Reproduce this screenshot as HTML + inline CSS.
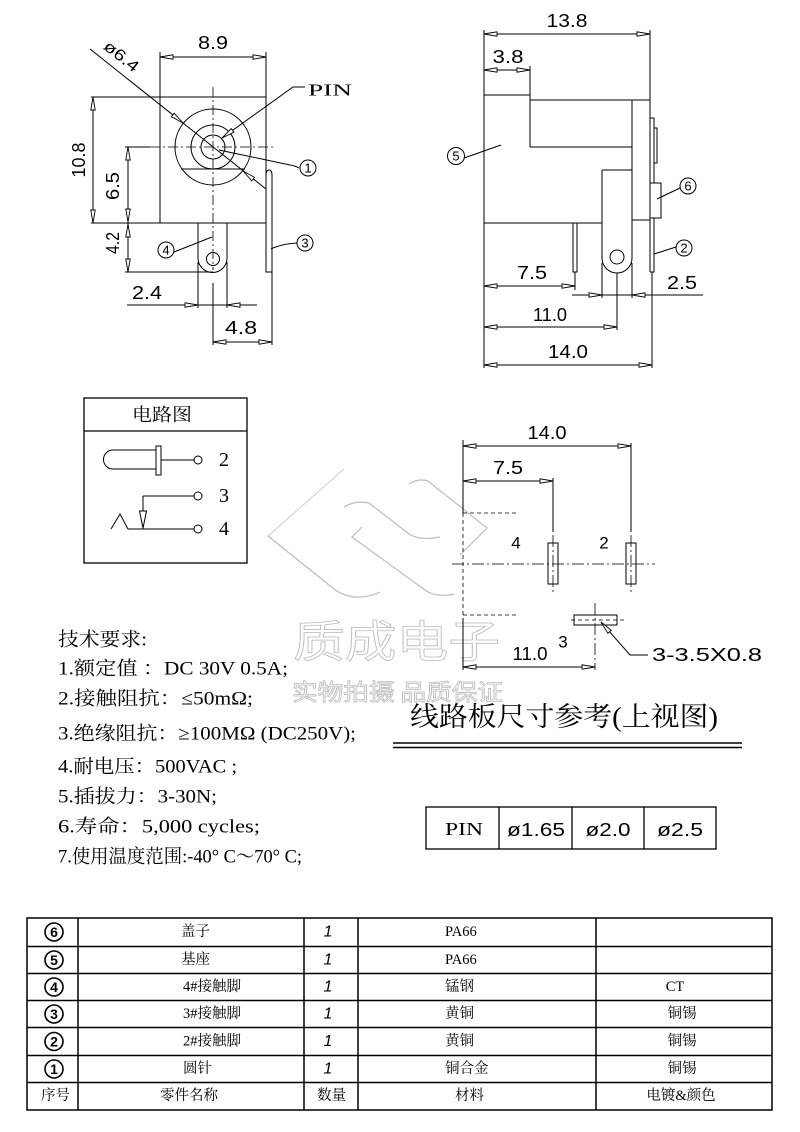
<!DOCTYPE html>
<html><head><meta charset="utf-8"><style>
html,body{margin:0;padding:0;background:#fff;}
svg{display:block;}
</style></head><body>
<svg width="800" height="1132" viewBox="0 0 800 1132" xmlns="http://www.w3.org/2000/svg">
<rect width="800" height="1132" fill="#fff"/>

<!-- watermark -->
<g fill="none" stroke="#bdbdbd" stroke-width="1.2">
<path d="M344,469 L268,536" stroke="#d6d6d6"/>
<path d="M268,536 L334,589 Q346,598 362,597 Q372,596 380,592"/>
<path d="M344,507 Q355,500 369,503 L409,534 Q420,541 440,537"/>
<path d="M362,527 L352,537 L425,590 Q436,598 454,594"/>
<path d="M409,484 Q418,478 428,481 L487,528 L460,555"/>
</g>
<g font-family="'Noto Sans CJK SC',sans-serif" fill="none" stroke="#bababa" stroke-width="0.8">
<text x="293" y="638" font-size="44" textLength="207" lengthAdjust="spacingAndGlyphs" dominant-baseline="central">质成电子</text>
<text x="292" y="690" font-size="23" textLength="211" lengthAdjust="spacingAndGlyphs" dominant-baseline="central">实物拍摄 品质保证</text>
</g>

<!-- ============ TOP-LEFT VIEW ============ -->
<g stroke="#000" stroke-width="1" fill="none">
<rect x="160" y="97" width="106" height="126"/>
<line x1="160" y1="52" x2="160" y2="97"/>
<line x1="266" y1="52" x2="266" y2="97"/>
<line x1="160" y1="57" x2="266" y2="57"/>
<line x1="90" y1="49" x2="266" y2="189"/>
<circle cx="213" cy="147" r="38"/>
<circle cx="213" cy="147" r="22"/>
<circle cx="213" cy="147" r="12"/>
<line x1="181" y1="169" x2="245" y2="169"/>
<line x1="91" y1="97" x2="160" y2="97"/>
<line x1="91" y1="223" x2="160" y2="223"/>
<line x1="93" y1="97" x2="93" y2="223"/>
<line x1="125" y1="147" x2="150" y2="147"/>
<line x1="128" y1="147" x2="128" y2="272"/>
<line x1="125" y1="272" x2="213" y2="272"/>
<path d="M198,223 V258 A14.5,14.5 0 0 0 227,258 V223"/>
<circle cx="213" cy="259" r="6.5"/>
<line x1="198" y1="262" x2="198" y2="308"/>
<line x1="227" y1="262" x2="227" y2="308"/>
<line x1="127" y1="305" x2="257" y2="305"/>
<line x1="213" y1="283" x2="213" y2="345"/>
<line x1="272" y1="272" x2="272" y2="345"/>
<line x1="213" y1="342" x2="272" y2="342"/>
<path d="M266,272 V175 Q266,170 269,170 Q272,170 272,175 V272 Z"/>
<polyline points="222,138 293,87 305,87"/>
<path d="M219,150 L290,165 Q296,166 299,168"/>
<path d="M271,249 Q281,244 297,243"/>
<path d="M174,252 L212,237"/>
<circle cx="308" cy="168" r="8"/>
<circle cx="305" cy="243" r="8"/>
<circle cx="166" cy="250" r="8"/>
</g>
<g stroke="#000" stroke-width="0.8" fill="none" stroke-dasharray="10,3,2,3">
<line x1="213" y1="87" x2="213" y2="270"/>
<line x1="150" y1="147" x2="273" y2="147"/>
</g>
<g stroke="#000" stroke-width="0.9" fill="#fff">
<polygon points="160,57 173,54.8 173,59.2"/>
<polygon points="266,57 253,54.8 253,59.2"/>
<polygon points="93,97 90.8,110 95.2,110"/>
<polygon points="93,223 90.8,210 95.2,210"/>
<polygon points="128,147 125.8,160 130.2,160"/>
<polygon points="128,222 125.8,209 130.2,209"/>
<polygon points="128,224 125.8,237 130.2,237"/>
<polygon points="128,272 125.8,259 130.2,259"/>
<polygon points="198,305 185,302.8 185,307.2"/>
<polygon points="227,305 240,302.8 240,307.2"/>
<polygon points="213,342 226,339.8 226,344.2"/>
<polygon points="272,342 259,339.8 259,344.2"/>
<polygon points="183,123 174.2,113.2 171.4,116.6"/>
<polygon points="243,171 254.6,177.4 251.8,180.8"/>
<polygon points="222,138 233.9,132.2 231.3,128.6"/>
</g>
<g font-family="'Liberation Sans',sans-serif" font-size="18" fill="#000" text-anchor="middle" dominant-baseline="central">
<text x="213" y="43" textLength="30" lengthAdjust="spacingAndGlyphs">8.9</text>
<text transform="translate(79,160) rotate(-90)" textLength="35" lengthAdjust="spacingAndGlyphs">10.8</text>
<text transform="translate(113,186) rotate(-90)" textLength="28" lengthAdjust="spacingAndGlyphs">6.5</text>
<text transform="translate(113,243) rotate(-90)" textLength="22" lengthAdjust="spacingAndGlyphs">4.2</text>
<text x="147" y="293" textLength="30" lengthAdjust="spacingAndGlyphs">2.4</text>
<text x="241" y="328" textLength="32" lengthAdjust="spacingAndGlyphs">4.8</text>
<text transform="translate(121,57) rotate(38.5)" font-size="16" textLength="40" lengthAdjust="spacingAndGlyphs">ø6.4</text>
<text x="308" y="168" font-size="13">1</text>
<text x="305" y="243" font-size="13">3</text>
<text x="166" y="250" font-size="13">4</text>
</g>
<text x="308" y="90" font-family="'Liberation Serif',serif" font-size="17" dominant-baseline="central" textLength="44" lengthAdjust="spacingAndGlyphs">PIN</text>

<!-- ============ TOP-RIGHT VIEW ============ -->
<g stroke="#000" stroke-width="1" fill="none">
<line x1="484" y1="30" x2="484" y2="368"/>
<line x1="650" y1="30" x2="650" y2="272"/>
<line x1="484" y1="34" x2="650" y2="34"/>
<line x1="484" y1="70" x2="530" y2="70"/>
<line x1="530" y1="66" x2="530" y2="147"/>
<line x1="484" y1="95" x2="530" y2="95"/>
<line x1="530" y1="100" x2="650" y2="100"/>
<line x1="530" y1="147" x2="632" y2="147"/>
<line x1="484" y1="223" x2="602" y2="223"/>
<line x1="632" y1="100" x2="632" y2="258"/>
<line x1="632" y1="220" x2="650" y2="220"/>
<path d="M602,170 H632 M602,170 V258 A15,15 0 0 0 632,258"/>
<circle cx="617" cy="257" r="7"/>
<rect x="573" y="223" width="4" height="49"/>
<polyline points="650,118 654,118 654,183"/>
<rect x="654" y="128" width="3" height="35"/>
<rect x="650" y="183" width="11" height="35"/>
<path d="M654,218 V272 H650"/>
<line x1="575" y1="272" x2="575" y2="290"/>
<line x1="602" y1="263" x2="602" y2="298"/>
<line x1="632" y1="263" x2="632" y2="298"/>
<line x1="617" y1="273" x2="617" y2="330"/>
<line x1="652" y1="272" x2="652" y2="368"/>
<line x1="484" y1="286" x2="575" y2="286"/>
<line x1="572" y1="295" x2="703" y2="295"/>
<line x1="484" y1="327" x2="617" y2="327"/>
<line x1="484" y1="365" x2="652" y2="365"/>
<path d="M464,158 L501,145"/>
<path d="M657,199 L680,188"/>
<path d="M654,254 L676,247"/>
<circle cx="456" cy="156" r="8.5"/>
<circle cx="688" cy="186" r="8"/>
<circle cx="684" cy="248" r="8"/>
</g>
<g stroke="#000" stroke-width="0.9" fill="#fff">
<polygon points="484,34 497,31.8 497,36.2"/>
<polygon points="650,34 637,31.8 637,36.2"/>
<polygon points="484,70 497,67.8 497,72.2"/>
<polygon points="530,70 517,67.8 517,72.2"/>
<polygon points="484,286 497,283.8 497,288.2"/>
<polygon points="575,286 562,283.8 562,288.2"/>
<polygon points="602,295 589,292.8 589,297.2"/>
<polygon points="632,295 645,292.8 645,297.2"/>
<polygon points="484,327 497,324.8 497,329.2"/>
<polygon points="617,327 604,324.8 604,329.2"/>
<polygon points="484,365 497,362.8 497,367.2"/>
<polygon points="652,365 639,362.8 639,367.2"/>
</g>
<g font-family="'Liberation Sans',sans-serif" font-size="18" fill="#000" text-anchor="middle" dominant-baseline="central">
<text x="567" y="21" textLength="41" lengthAdjust="spacingAndGlyphs">13.8</text>
<text x="508" y="57" textLength="31" lengthAdjust="spacingAndGlyphs">3.8</text>
<text x="532" y="273" textLength="30" lengthAdjust="spacingAndGlyphs">7.5</text>
<text x="682" y="283" textLength="30" lengthAdjust="spacingAndGlyphs">2.5</text>
<text x="550" y="315" textLength="34" lengthAdjust="spacingAndGlyphs">11.0</text>
<text x="568" y="352" textLength="40" lengthAdjust="spacingAndGlyphs">14.0</text>
<text x="456" y="156" font-size="13">5</text>
<text x="688" y="186" font-size="13">6</text>
<text x="684" y="248" font-size="13">2</text>
</g>

<!-- ============ CIRCUIT ============ -->
<g stroke="#000" stroke-width="1" fill="none">
<rect x="84" y="398" width="163" height="165" stroke-width="1.3"/>
<line x1="84" y1="431" x2="247" y2="431" stroke-width="1.3"/>
<path d="M156,450 H113 A9.5,9.5 0 0 0 113,469 H156"/>
<rect x="156" y="446" width="5" height="29"/>
<line x1="161" y1="460" x2="194" y2="460"/>
<circle cx="198" cy="460" r="4"/>
<line x1="143" y1="496" x2="194" y2="496"/>
<circle cx="198" cy="496" r="4"/>
<line x1="143" y1="496" x2="143" y2="529"/>
<polygon points="139.5,511 146.5,511 143,528" fill="#fff"/>
<polyline points="111,529 120,514 128,529 194,529"/>
<circle cx="198" cy="529" r="4"/>
</g>
<text x="162" y="415" font-family="'Liberation Serif','Noto Serif CJK SC',serif" font-size="18" text-anchor="middle" dominant-baseline="central" textLength="60" lengthAdjust="spacingAndGlyphs">电路图</text>
<g font-family="'Liberation Serif',serif" font-size="20" text-anchor="middle" dominant-baseline="central">
<text x="224" y="460">2</text>
<text x="224" y="496">3</text>
<text x="224" y="529">4</text>
</g>

<!-- ============ PCB LAYOUT ============ -->
<g stroke="#000" stroke-width="1" fill="none">
<line x1="463" y1="440" x2="463" y2="513"/>
<line x1="463" y1="618" x2="463" y2="670"/>
<line x1="553" y1="478" x2="553" y2="532"/>
<line x1="631" y1="443" x2="631" y2="532"/>
<line x1="463" y1="446" x2="631" y2="446"/>
<line x1="463" y1="481" x2="553" y2="481"/>
<line x1="463" y1="667" x2="595" y2="667"/>
<rect x="548" y="543" width="10" height="41"/>
<rect x="626" y="543" width="10" height="41"/>
<rect x="574" y="615" width="43" height="10"/>
<polyline points="601,622 630,655 648,655"/>
</g>
<g stroke="#000" stroke-width="0.8" fill="none" stroke-dasharray="4,3">
<line x1="463" y1="513" x2="463" y2="615"/>
<line x1="463" y1="513" x2="518" y2="513"/>
<line x1="463" y1="615" x2="518" y2="615"/>
<line x1="571" y1="620" x2="627" y2="620"/>
</g>
<g stroke="#000" stroke-width="0.8" fill="none" stroke-dasharray="12,3,2,3">
<line x1="452" y1="564" x2="655" y2="564"/>
<line x1="553" y1="535" x2="553" y2="593"/>
<line x1="631" y1="535" x2="631" y2="593"/>
<line x1="595" y1="603" x2="595" y2="670"/>
</g>
<g stroke="#000" stroke-width="0.9" fill="#fff">
<polygon points="463,446 476,443.8 476,448.2"/>
<polygon points="631,446 618,443.8 618,448.2"/>
<polygon points="463,481 476,478.8 476,483.2"/>
<polygon points="553,481 540,478.8 540,483.2"/>
<polygon points="463,667 476,664.8 476,669.2"/>
<polygon points="595,667 582,664.8 582,669.2"/>
<polygon points="601,622 611.2,630.3 607.9,633.3"/>
</g>
<g font-family="'Liberation Sans',sans-serif" font-size="18" fill="#000" text-anchor="middle" dominant-baseline="central">
<text x="547" y="433" textLength="39" lengthAdjust="spacingAndGlyphs">14.0</text>
<text x="508" y="468" textLength="30" lengthAdjust="spacingAndGlyphs">7.5</text>
<text x="530" y="654" textLength="35" lengthAdjust="spacingAndGlyphs">11.0</text>
<text x="516" y="543" font-size="17">4</text>
<text x="604" y="543" font-size="17">2</text>
<text x="563" y="642" font-size="17">3</text>
<text x="707" y="655" textLength="110" lengthAdjust="spacingAndGlyphs">3-3.5X0.8</text>
</g>

<!-- ============ SPECS ============ -->
<g font-family="'Liberation Serif','Noto Serif CJK SC',serif" font-size="19" fill="#000" dominant-baseline="central">
<text x="58" y="640" textLength="89" lengthAdjust="spacingAndGlyphs">技术要求:</text>
<text x="58" y="669" textLength="230" lengthAdjust="spacingAndGlyphs">1.额定值 ：DC 30V 0.5A;</text>
<text x="58" y="699" textLength="195" lengthAdjust="spacingAndGlyphs">2.接触阻抗：≤50mΩ;</text>
<text x="58" y="734" textLength="298" lengthAdjust="spacingAndGlyphs">3.绝缘阻抗：≥100MΩ (DC250V);</text>
<text x="58" y="767" textLength="179" lengthAdjust="spacingAndGlyphs">4.耐电压：500VAC ;</text>
<text x="58" y="797" textLength="159" lengthAdjust="spacingAndGlyphs">5.插拔力：3-30N;</text>
<text x="58" y="827" textLength="202" lengthAdjust="spacingAndGlyphs">6.寿命：5,000 cycles;</text>
<text x="58" y="857" textLength="244" lengthAdjust="spacingAndGlyphs">7.使用温度范围:-40° C～70° C;</text>
</g>

<!-- ============ PCB TITLE ============ -->
<text x="410" y="717" font-family="'Liberation Serif','Noto Serif CJK SC',serif" font-size="27" dominant-baseline="central" textLength="308" lengthAdjust="spacingAndGlyphs">线路板尺寸参考(上视图)</text>
<line x1="393" y1="743" x2="742" y2="743" stroke="#000" stroke-width="1.5"/>
<line x1="393" y1="747.5" x2="742" y2="747.5" stroke="#000" stroke-width="1.5"/>

<!-- PIN table -->
<g stroke="#000" stroke-width="1.3" fill="none">
<rect x="426" y="807" width="290" height="42"/>
<line x1="499" y1="807" x2="499" y2="849"/>
<line x1="572" y1="807" x2="572" y2="849"/>
<line x1="644" y1="807" x2="644" y2="849"/>
</g>
<g font-size="18" fill="#000" text-anchor="middle" dominant-baseline="central">
<text x="464" y="829" font-family="'Liberation Serif',serif" textLength="38" lengthAdjust="spacingAndGlyphs">PIN</text>
<text x="536" y="830" font-family="'Liberation Sans',sans-serif" textLength="58" lengthAdjust="spacingAndGlyphs">ø1.65</text>
<text x="608" y="830" font-family="'Liberation Sans',sans-serif" textLength="45" lengthAdjust="spacingAndGlyphs">ø2.0</text>
<text x="680" y="830" font-family="'Liberation Sans',sans-serif" textLength="46" lengthAdjust="spacingAndGlyphs">ø2.5</text>
</g>

<!-- ============ BOTTOM TABLE ============ -->
<g stroke="#000" stroke-width="1.5" fill="none">
<rect x="27" y="918" width="745" height="192"/>
<line x1="27" y1="946.5" x2="772" y2="946.5"/>
<line x1="27" y1="973.5" x2="772" y2="973.5"/>
<line x1="27" y1="1000.5" x2="772" y2="1000.5"/>
<line x1="27" y1="1027.5" x2="772" y2="1027.5"/>
<line x1="27" y1="1055.5" x2="772" y2="1055.5"/>
<line x1="27" y1="1082.5" x2="772" y2="1082.5"/>
<line x1="78" y1="918" x2="78" y2="1110"/>
<line x1="304" y1="918" x2="304" y2="1110"/>
<line x1="358" y1="918" x2="358" y2="1110"/>
<line x1="596" y1="918" x2="596" y2="1110"/>
</g>
<g stroke="#000" stroke-width="1.6" fill="none">
<circle cx="54" cy="932" r="9"/>
<circle cx="54" cy="960" r="9"/>
<circle cx="54" cy="987" r="9"/>
<circle cx="54" cy="1014" r="9"/>
<circle cx="54" cy="1041.5" r="9"/>
<circle cx="54" cy="1069" r="9"/>
</g>
<g font-family="'Liberation Sans',sans-serif" font-size="14" font-weight="bold" fill="#000" text-anchor="middle" dominant-baseline="central">
<text x="54" y="932">6</text>
<text x="54" y="960">5</text>
<text x="54" y="987">4</text>
<text x="54" y="1014">3</text>
<text x="54" y="1041.5">2</text>
<text x="54" y="1069">1</text>
</g>
<g font-family="'Liberation Sans',sans-serif" font-size="16" font-style="italic" fill="#000" text-anchor="middle" dominant-baseline="central">
<text x="328" y="932">1</text>
<text x="328" y="960">1</text>
<text x="328" y="987">1</text>
<text x="328" y="1014">1</text>
<text x="328" y="1041.5">1</text>
<text x="328" y="1069">1</text>
</g>
<g font-family="'Liberation Serif','Noto Serif CJK SC',serif" font-size="14.5" fill="#000" dominant-baseline="central">
<text x="181" y="932">盖子</text>
<text x="181" y="960">基座</text>
<text x="183" y="987">4#接触脚</text>
<text x="183" y="1014">3#接触脚</text>
<text x="183" y="1041.5">2#接触脚</text>
<text x="183" y="1069">圆针</text>
<text x="445" y="932">PA66</text>
<text x="445" y="960">PA66</text>
<text x="445" y="987">锰钢</text>
<text x="445" y="1014">黄铜</text>
<text x="445" y="1041.5">黄铜</text>
<text x="445" y="1069">铜合金</text>
<text x="455" y="1096">材料</text>
<text x="41" y="1096">序号</text>
<text x="160" y="1096">零件名称</text>
<text x="317" y="1096">数量</text>
</g>
<g font-family="'Liberation Serif','Noto Serif CJK SC',serif" font-size="14.5" fill="#000" text-anchor="middle" dominant-baseline="central">
<text x="675" y="987">CT</text>
<text x="682" y="1014">铜锡</text>
<text x="682" y="1041.5">铜锡</text>
<text x="682" y="1069">铜锡</text>
<text x="681" y="1096">电镀&amp;颜色</text>
</g>
</svg>
</body></html>
